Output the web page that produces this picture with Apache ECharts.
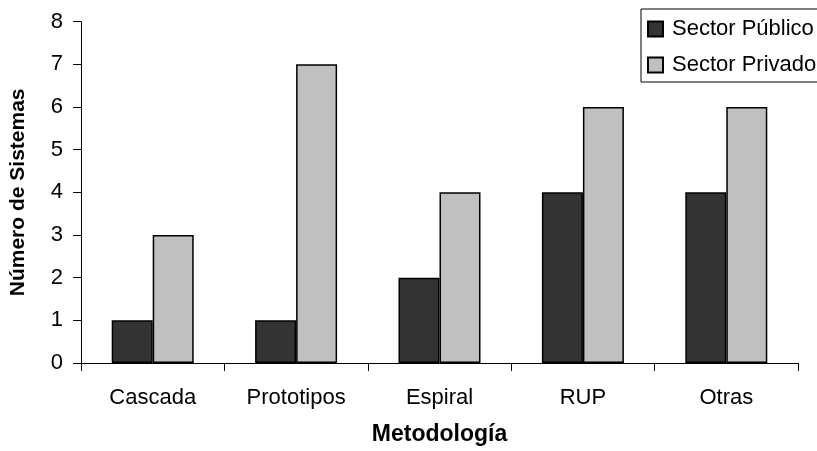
<!DOCTYPE html>
<html>
<head>
<meta charset="utf-8">
<script src="https://cdn.jsdelivr.net/npm/echarts@6/dist/echarts.min.js"></script>
<style>
html,body{margin:0;padding:0;background:#fff;}
#chart{width:817px;height:451px;}
</style>
</head>
<body>
<div id="chart"></div>
<script>
const categories = ['Cascada', 'Prototipos', 'Espiral', 'RUP', 'Otras'];
const publico = [1, 1, 2, 4, 4];
const privado = [3, 7, 4, 6, 6];
const seriesNames = ['Sector Público', 'Sector Privado'];
const yTicks = [0, 1, 2, 3, 4, 5, 6, 7, 8];

const FONT = '"Liberation Sans", Arial, sans-serif';
const chart = echarts.init(document.getElementById('chart'), null, {renderer: 'canvas'});
chart.setOption({
  backgroundColor: '#ffffff',
  animation: false,
  textStyle: {fontFamily: FONT, color: '#000'},
  grid: {left: 78, right: 19, top: 21.7, bottom: 84.3, containLabel: false},
  legend: {
    orient: 'vertical',
    left: 641, top: 9,
    padding: [9, 40, 6, 6],
    itemGap: 14,
    itemWidth: 15, itemHeight: 15,
    borderColor: '#000', borderWidth: 1,
    backgroundColor: '#fff',
    textStyle: {fontFamily: FONT, fontSize: 22, color: '#000', padding: [0, 0, 0, 4]},
    data: seriesNames.map(n => ({name: n, icon: 'rect'}))
  },
  xAxis: {
    type: 'category',
    data: categories,
    name: 'Metodología',
    nameLocation: 'middle',
    nameGap: 60,
    nameTextStyle: {fontFamily: FONT, fontSize: 23, fontWeight: 'bold', color: '#000'},
    axisLine: {lineStyle: {color: '#000', width: 1}},
    axisTick: {show: true, inside: false, length: 8, lineStyle: {color: '#000'}},
    axisLabel: {fontFamily: FONT, fontSize: 22, color: '#000', margin: 24},
    splitLine: {show: false}
  },
  yAxis: {
    type: 'value',
    min: 0, max: 8, interval: 1,
    name: 'Número de Sistemas',
    nameLocation: 'middle',
    nameGap: 52,
    nameTextStyle: {fontFamily: FONT, fontSize: 21, fontWeight: 'bold', color: '#000'},
    axisLine: {show: true, lineStyle: {color: '#000', width: 1}},
    axisTick: {show: true, inside: false, length: 8, lineStyle: {color: '#000'}},
    axisLabel: {fontFamily: FONT, fontSize: 22, color: '#000', margin: 18,
      formatter: v => yTicks.includes(v) ? String(v) : ''},
    splitLine: {show: false}
  },
  series: [
    {
      name: seriesNames[0], type: 'bar', data: publico,
      barWidth: 41, barGap: '0%',
      itemStyle: {color: '#333333', borderColor: '#000', borderWidth: 1.5}
    },
    {
      name: seriesNames[1], type: 'bar', data: privado,
      barWidth: 41, barGap: '0%',
      itemStyle: {color: '#c0c0c0', borderColor: '#000', borderWidth: 1.5}
    }
  ]
});
</script>
</body>
</html>
